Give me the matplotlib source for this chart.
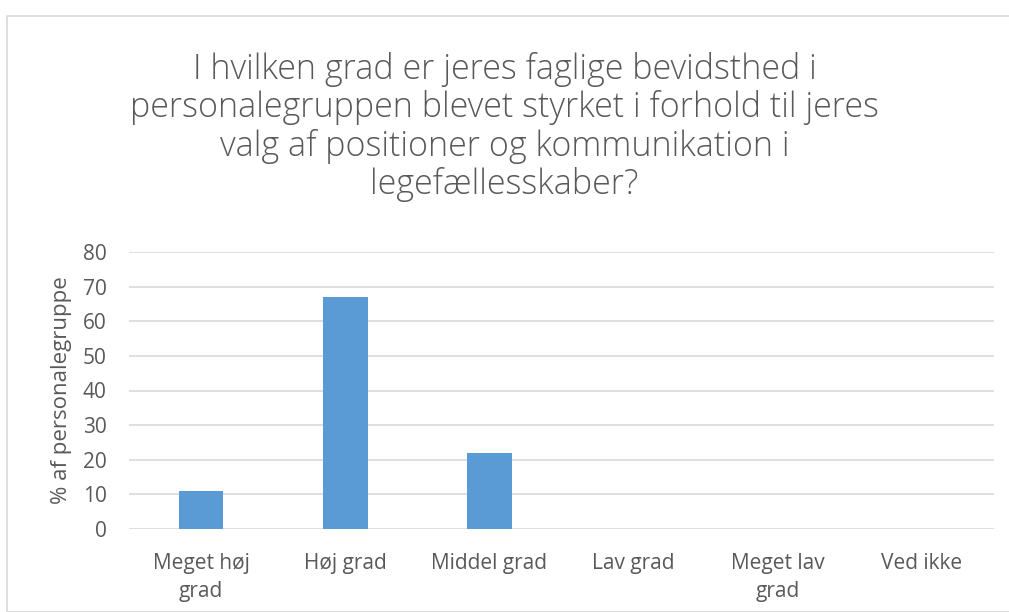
import matplotlib.pyplot as plt
from matplotlib.patches import Rectangle

categories = ["Meget høj\ngrad", "Høj grad", "Middel grad", "Lav grad", "Meget lav\ngrad", "Ved ikke"]
values = [11, 67, 22, 0, 0, 0]
yticks = [0, 10, 20, 30, 40, 50, 60, 70, 80]

title = ("I hvilken grad er jeres faglige bevidsthed i\n"
         "personalegruppen blevet styrket i forhold til jeres\n"
         "valg af positioner og kommunikation i\n"
         "legefællesskaber?")

plt.rcParams['font.family'] = ['Open Sans', 'DejaVu Sans']
text_col = "#595959"

fig = plt.figure(figsize=(10.09, 6.12), dpi=100)
# chart frame
fig.patches.append(Rectangle((7 / 1009, 0), 1.05, 1 - 16 / 612, transform=fig.transFigure,
                             fill=False, edgecolor="#d9d9d9", linewidth=1.2))

ax = fig.add_axes([129 / 1009, 1 - 529 / 612, (994 - 129) / 1009, (529 - 252) / 612])
x = range(len(categories))
ax.bar(x, values, width=0.31, color="#5b9bd5", zorder=3)

ax.set_xlim(-0.5, len(categories) - 0.5)
ax.set_ylim(0, 80)
ax.set_yticks(yticks)
ax.set_xticks(list(x))
ax.set_xticklabels(categories, fontsize=15, color=text_col, linespacing=1.45)
ax.tick_params(axis="y", labelsize=15, labelcolor=text_col, length=0, pad=16)
ax.tick_params(axis="x", length=0, pad=17)
ax.grid(axis="y", color="#d9d9d9", linewidth=1.2, zorder=0)
for s in ax.spines.values():
    s.set_visible(False)

ax.set_ylabel("% af personalegruppe", fontsize=16, color=text_col, labelpad=8)

fig.text(0.5, 1 - 127 / 612, title, ha="center", va="center", fontsize=24.5,
         color=text_col, linespacing=1.13, fontweight="light")

fig.savefig("out.png", dpi=100)
